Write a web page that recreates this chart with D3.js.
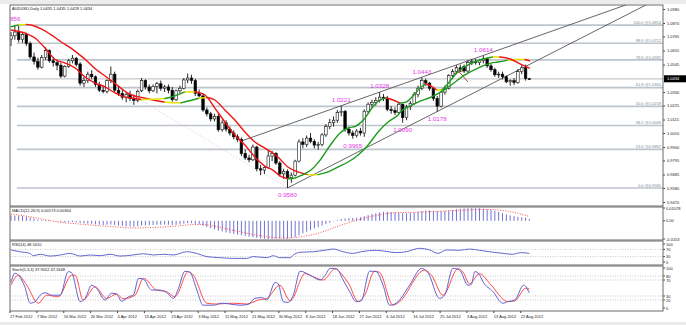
<!DOCTYPE html>
<html><head><meta charset="utf-8">
<script src="https://cdn.jsdelivr.net/npm/d3@7"></script>
<style>
html,body{margin:0;padding:0;background:#ececec;}
svg{display:block;font-family:"Liberation Sans",Arial,sans-serif;}
</style></head><body>
<svg id="chart" width="686" height="325"></svg>
<script>
// ---- AUDUSD daily bars, 27 Feb 2012 .. 24 Aug 2012 ----
const opens = [1.0745,1.0770,1.0800,1.0740,1.0780,1.0710,1.0605,1.0570,1.0525,1.0600,
1.0655,1.0575,1.0560,1.0540,1.0455,1.0530,1.0575,1.0595,1.0550,1.0400,
1.0420,1.0470,1.0450,1.0390,1.0345,1.0335,1.0420,1.0470,1.0345,1.0320,
1.0290,1.0310,1.0280,1.0265,1.0340,1.0420,1.0370,1.0340,1.0375,1.0395,
1.0360,1.0370,1.0345,1.0270,1.0340,1.0360,1.0425,1.0440,1.0420,1.0320,
1.0300,1.0190,1.0160,1.0120,1.0140,1.0035,1.0090,1.0040,1.0010,0.9980,
0.9960,0.9850,0.9815,0.9800,0.9900,0.9730,0.9720,0.9740,0.9830,0.9850,
0.9775,0.9690,0.9710,0.9660,0.9680,0.9790,0.9940,0.9920,0.9970,0.9945,
0.9915,0.9920,0.9995,1.0060,1.0090,1.0110,1.0170,1.0180,1.0040,1.0010,
0.9990,1.0025,1.0010,1.0180,1.0235,1.0250,1.0265,1.0290,1.0280,1.0195,
1.0185,1.0170,1.0235,1.0130,1.0215,1.0240,1.0310,1.0360,1.0420,1.0400,
1.0360,1.0280,1.0220,1.0330,1.0360,1.0460,1.0490,1.0520,1.0530,1.0495,
1.0560,1.0570,1.0560,1.0575,1.0590,1.0535,1.0505,1.0465,1.0470,1.0450,
1.0410,1.0420,1.0405,1.0490,1.0520,1.0435];
const highs = [1.0800,1.0856,1.0850,1.0800,1.0795,1.0725,1.0640,1.0600,1.0620,1.0680,
1.0665,1.0600,1.0585,1.0560,1.0540,1.0590,1.0620,1.0605,1.0565,1.0450,
1.0490,1.0500,1.0460,1.0410,1.0380,1.0430,1.0530,1.0490,1.0380,1.0350,
1.0330,1.0340,1.0310,1.0350,1.0440,1.0430,1.0390,1.0390,1.0410,1.0420,
1.0385,1.0390,1.0370,1.0350,1.0380,1.0440,1.0475,1.0465,1.0435,1.0350,
1.0310,1.0210,1.0175,1.0160,1.0160,1.0110,1.0110,1.0060,1.0030,1.0000,
0.9975,0.9880,0.9840,0.9920,0.9910,0.9760,0.9750,0.9880,0.9870,0.9860,
0.9790,0.9730,0.9725,0.9700,0.9800,0.9960,0.9970,0.9990,1.0010,0.9960,
0.9940,1.0010,1.0080,1.0120,1.0140,1.0190,1.0221,1.0190,1.0060,1.0030,
1.0040,1.0050,1.0195,1.0250,1.0270,1.0290,1.0328,1.0315,1.0300,1.0220,
1.0210,1.0250,1.0240,1.0230,1.0260,1.0330,1.0380,1.0443,1.0435,1.0410,
1.0370,1.0300,1.0340,1.0380,1.0470,1.0510,1.0540,1.0545,1.0545,1.0580,
1.0590,1.0590,1.0590,1.0614,1.0600,1.0550,1.0520,1.0490,1.0490,1.0460,
1.0430,1.0440,1.0510,1.0540,1.0545,1.0435];
const lows = [1.0690,1.0740,1.0720,1.0715,1.0690,1.0590,1.0545,1.0505,1.0515,1.0580,
1.0560,1.0530,1.0500,1.0440,1.0445,1.0520,1.0555,1.0530,1.0380,1.0370,
1.0400,1.0430,1.0370,1.0330,1.0320,1.0320,1.0400,1.0330,1.0300,1.0270,
1.0250,1.0260,1.0230,1.0250,1.0330,1.0350,1.0320,1.0330,1.0320,1.0340,
1.0330,1.0320,1.0255,1.0260,1.0320,1.0350,1.0400,1.0395,1.0300,1.0290,
1.0175,1.0140,1.0100,1.0100,1.0020,1.0020,1.0020,0.9990,0.9960,0.9940,
0.9830,0.9800,0.9780,0.9790,0.9710,0.9680,0.9690,0.9730,0.9790,0.9760,
0.9670,0.9650,0.9580,0.9620,0.9670,0.9780,0.9890,0.9900,0.9930,0.9890,
0.9880,0.9905,0.9980,1.0040,1.0060,1.0090,1.0140,1.0020,0.9990,0.9965,
0.9975,0.9990,0.9980,1.0160,1.0210,1.0225,1.0250,1.0260,1.0180,1.0160,
1.0150,1.0160,1.0090,1.0110,1.0190,1.0230,1.0290,1.0345,1.0380,1.0340,
1.0260,1.0178,1.0210,1.0310,1.0350,1.0440,1.0470,1.0490,1.0480,1.0480,
1.0540,1.0545,1.0540,1.0555,1.0520,1.0490,1.0450,1.0440,1.0430,1.0400,
1.0380,1.0385,1.0395,1.0470,1.0420,1.0428];
const closes = [1.0770,1.0800,1.0740,1.0780,1.0710,1.0605,1.0570,1.0525,1.0600,1.0655,
1.0575,1.0560,1.0540,1.0455,1.0530,1.0575,1.0595,1.0545,1.0400,1.0420,
1.0470,1.0450,1.0390,1.0345,1.0335,1.0420,1.0470,1.0345,1.0320,1.0290,
1.0310,1.0280,1.0265,1.0335,1.0420,1.0370,1.0340,1.0375,1.0395,1.0360,
1.0370,1.0345,1.0270,1.0340,1.0360,1.0425,1.0440,1.0420,1.0320,1.0300,
1.0190,1.0160,1.0120,1.0140,1.0035,1.0090,1.0040,1.0010,0.9980,0.9960,
0.9850,0.9815,0.9800,0.9900,0.9730,0.9720,0.9740,0.9830,0.9850,0.9775,
0.9690,0.9710,0.9660,0.9680,0.9790,0.9940,0.9920,0.9970,0.9945,0.9915,
0.9920,0.9995,1.0060,1.0090,1.0110,1.0170,1.0180,1.0040,1.0010,0.9990,
1.0025,1.0010,1.0180,1.0235,1.0250,1.0265,1.0290,1.0280,1.0195,1.0185,
1.0170,1.0235,1.0130,1.0215,1.0240,1.0310,1.0360,1.0420,1.0400,1.0360,
1.0280,1.0220,1.0330,1.0360,1.0460,1.0490,1.0520,1.0505,1.0495,1.0560,
1.0570,1.0560,1.0575,1.0590,1.0535,1.0505,1.0465,1.0470,1.0450,1.0410,
1.0420,1.0405,1.0490,1.0520,1.0435,1.0434];

// date labels, one every 7 bars
const dateLabels = ["27 Feb 2012","7 Mar 2012","16 Mar 2012","26 Mar 2012","4 Apr 2012","13 Apr 2012",
"23 Apr 2012","3 May 2012","11 May 2012","21 May 2012","30 May 2012","8 Jun 2012","18 Jun 2012",
"27 Jun 2012","6 Jul 2012","16 Jul 2012","25 Jul 2012","3 Aug 2012","13 Aug 2012","22 Aug 2012"];
const dateLabelStep = 7;

const priceTicks = [1.0980,1.0870,1.0765,1.0655,1.0545,1.0330,1.0225,1.0115,1.0010,0.9900,0.9795,0.9685,0.9580,0.9470];
const lastPrice = 1.0434;

// moving-average pair, as [bar, price] readings
const maSlow = [[0,1.0841],[2,1.0856],[4,1.0860],[5.5,1.0853],[8,1.0823],[10.5,1.0777],[13,1.0724],[15.7,1.0672],
[17.4,1.0633],[20,1.0568],[21.8,1.0516],[23.5,1.0477],[25.3,1.0438],[27,1.0399],[28.7,1.0359],[30.5,1.0320],
[32.2,1.0299],[34.4,1.0286],[37,1.0268],[40,1.0252],[42,1.0246],[44.3,1.0246],[46.5,1.0262],[49,1.0282],
[51,1.0288],[53,1.0270],[55.7,1.0190],[58.3,1.0111],[60.9,1.0018],[63.5,0.9939],[66.1,0.9892],[68.2,0.9853],
[69.5,0.9822],[72.1,0.9744],[74.7,0.9705],[77.3,0.9684],[78.6,0.9681],[80,0.9684],[82.6,0.9705],[85.2,0.9744],
[87.8,0.9783],[90.4,0.9838],[93,0.9916],[95.6,1.0018],[98.2,1.0096],[100.8,1.0151],[102,1.0190],[103.9,1.0221],
[106,1.0252],[109.4,1.0291],[112,1.0331],[114.6,1.0385],[118.2,1.0464],[121.6,1.0518],[125,1.0557],
[126.8,1.0565],[129.4,1.0580],[131.3,1.0585],[133.9,1.0585],[135,1.0575]];
const maFast = [[0,1.0816],[3.6,1.0792],[6.25,1.0753],[8.85,1.0675],[11.5,1.0585],[14.1,1.0557],[16.7,1.0518],
[19.3,1.0448],[21.9,1.0401],[24.5,1.0370],[27.1,1.0323],[29.7,1.0291],[32.3,1.0280],[34,1.0272],[36.5,1.0274],
[40.1,1.0280],[41.7,1.0291],[45.3,1.0331],[47.9,1.0333],[50.5,1.0307],[53.1,1.0205],[55.7,1.0096],[58.3,0.9994],
[60.9,0.9916],[63.5,0.9822],[66.1,0.9751],[68.2,0.9720],[70,0.9675],[72.1,0.9652],[74,0.9658],[75.8,0.9681],
[78.1,0.9720],[80.5,0.9798],[83,0.9908],[85.7,1.0010],[87.8,1.0049],[89.8,1.0064],[92.2,1.0127],[94,1.0205],
[96.1,1.0268],[97.7,1.0284],[99.5,1.0268],[101.3,1.0244],[102.9,1.0252],[104.7,1.0299],[106.5,1.0362],
[108,1.0393],[109.4,1.0377],[110.9,1.0346],[112.2,1.0346],[113.5,1.0385],[115.6,1.0464],[116.9,1.0503],
[119.5,1.0550],[122.1,1.0581],[125.5,1.0604],[127.3,1.0604],[130,1.0589],[133.1,1.0542],[135,1.0518]];

// Fibonacci retracement 1.0856 -> 0.9580
const fibLevels = [0, 23.6, 38.2, 50.0, 61.8, 78.6, 88.6, 100.0];
const fibPrices = [0.9580, 0.9882, 1.0068, 1.0218, 1.0365, 1.0582, 1.0712, 1.0854];
const fibAnchorBars = [1, 72];
const fibAnchorPrices = [1.0856, 0.9580];

// swing labels: bar index, price, placed above (1) or below (-1)
const swingBars   = [0, 72, 86, 89, 96, 102, 107, 111, 123];
const swingPrices = [1.0856, 0.9580, 1.0221, 0.9965, 1.0328, 1.0090, 1.0443, 1.0178, 1.0614];
const swingSide   = [1, -1, 1, -1, 1, -1, 1, -1, 1];

// trendlines as [bar, price] pairs
const upperChannel = [[60, 0.9947], [123, 1.0617]];
const lowerChannel = [[72, 0.9580], [111, 1.0178]];
const smallLines = [[[115.6, 1.0527], [119, 1.0409]], [[115.1, 1.0472], [118.5, 1.0505]]];

// MACD(12,26,9): main histogram per bar, signal readings [bar, value]
const macdHist = [45,44,42,40,35,28,20,12,8,6,4,0,-5,-10,-12,-10,-10,-12,-18,-22,
-24,-25,-28,-32,-35,-34,-32,-36,-40,-44,-46,-48,-50,-46,-40,-38,-37,-35,-33,-33,
-32,-33,-36,-34,-30,-24,-20,-20,-26,-32,-42,-52,-62,-72,-82,-90,-98,-104,-110,-116,
-122,-128,-134,-138,-144,-148,-151,-153,-152,-150,-149,-150,-150,-146,-136,-122,-106,-92,-78,-64,
-52,-40,-28,-16,-4,6,16,20,22,24,26,30,38,48,58,64,72,76,76,74,
70,68,64,64,66,70,76,82,86,86,84,80,80,82,86,90,98,102,104,106,
107.8,107,105,102,98,92,84,74,64,54,46,40,34,30,26,17.3].map(v => v / 10000);
const macdSignal = [[0,58],[5.7,30],[11.9,-8],[18.8,-30],[25.8,-48],[31.8,-60],[40.5,-50],[49.2,-30],
[57.9,-80],[64.8,-125],[70.9,-145],[79.6,-108],[86.5,-30],[90,5],[95,45],[100,68],[105,72],[112.5,82],
[118,90],[123.7,96],[127,90],[131,70],[135,36.4]].map(([b, v]) => [b, v / 10000]);

// RSI(14) readings [bar, value]
const rsiLine = [[0,67],[2.3,57],[4.9,48],[5.8,35],[7.6,43],[10.2,33],[12.8,39],[15.4,48],[18,33],[20.6,39],
[23.2,35],[25.8,43],[28.4,33],[31.8,39],[34.5,46],[37.1,39],[39.7,43],[42.3,39],[45.7,57],[48.3,48],[51,30],
[54.4,24],[57.9,20],[61.4,20],[63.1,30],[66.6,24],[68.3,35],[70,24],[72.7,24],[73.5,39],[75.3,54],[78.7,57],
[82.2,67],[83.9,72],[86.5,57],[89,48],[91.7,59],[95.1,65],[97.7,59],[100.3,52],[102.9,57],[106.4,76],[109,67],
[111.2,48],[113.4,67],[116.8,65],[119.4,72],[122,65],[124.6,57],[128.1,48],[130.6,43],[132.8,52],[135,48.161]];

// Stochastic(5,3,3) readings [bar, value]
const stochMain = [[0,64],[1,87],[3.6,53],[5,12],[6.3,16],[7.6,32],[8.9,38],[10.6,32],[12.8,32],[14.9,91],
[15.8,88],[18,16],[19.3,24],[21,57],[22.3,49],[24.5,20],[26.2,37],[27.5,35],[28.8,17],[30.6,28],[31.9,33],
[33.2,74],[34.5,72],[36.6,45],[38.4,45],[40.5,39],[42.3,24],[43.6,49],[45.3,92],[46.6,89],[48.4,45],[50,7],
[52.7,7],[54.9,12],[57,10],[59.6,7],[61.8,9],[63.5,24],[65.3,26],[66.6,20],[68.8,64],[69.6,60],[70.9,16],
[72.2,14],[73.5,32],[75.3,92],[77.9,82],[80.5,70],[81.8,82],[83.1,99],[84.8,98],[86.5,70],[88.2,41],[89.9,16],
[91.2,18],[93.4,92],[95.1,91],[96.9,57],[98.6,7],[100.3,12],[103.8,57],[106.9,99],[108.6,88],[111.6,24],
[112.9,32],[115.1,99],[116.8,95],[119,57],[119.9,59],[120.8,91],[122,83],[122.9,66],[125.5,41],[128.1,12],
[129.4,16],[131.2,20],[133.5,57],[135,37.9052]];
const stochSignal = [[0,57],[1.9,82],[4.1,57],[7.1,12],[9.3,32],[12.3,28],[15.8,82],[16.7,82],[18.8,20],
[21.9,53],[24.9,24],[27.5,35],[29.2,23],[32.3,32],[34.5,74],[37.9,45],[40.5,41],[42.7,28],[46.2,91],[47.5,82],
[51,12],[53.5,10],[57.9,12],[61.4,10],[64.4,20],[66.6,24],[70,57],[72.7,18],[76.6,86],[78.7,78],[81.3,70],
[84.4,98],[86.5,80],[88,60],[90.4,16],[92.1,32],[94.7,92],[96,89],[99.5,7],[101.2,16],[107.7,95],[109.5,82],
[112.5,32],[116.4,98],[117.7,90],[119.4,61],[122,86],[124.7,61],[129.4,16],[131.2,18],[134.1,50],[135,47.1648]];

const headerText = "AUDUSD,Daily  1.0435 1.0435 1.0428 1.0434";
const macdTitle = "MACD(12,26,9) 0.00173 0.00364";
const rsiTitle = "RSI(14) 48.1610";
const stochTitle = "Stoch(5,3,3) 37.9052 47.1648";
const macdTicks = [0.01078, 0.00, -0.0153];
const macdTickText = ["0.01078", "0.00", "-0.0153"];
const rsiTicks = [100, 70, 30, 0];
const stochTicks = [100, 80, 70, 30, 20, 0];

// ---- layout ----
const svg = d3.select("#chart");
const L = 10, R = 663;
const P = { main: [5, 206], macd: [207, 240], rsi: [241, 265], stoch: [266, 311] };
const nBars = closes.length;
const x = d3.scaleLinear().domain([0, nBars - 1]).range([11, 11 + 3.84 * (nBars - 1)]);
const y = d3.scaleLinear().domain([0.9470, 1.0980]).range([202, 9]);
const yM = d3.scaleLinear().domain([-0.0153, 0.01078]).range([239, 208]);
const yR = d3.scaleLinear().domain([0, 100]).range([262, 244]);
const yS = d3.scaleLinear().domain([0, 100]).range([308, 268]);

svg.append("rect").attr("x", 0).attr("y", 4).attr("width", 686).attr("height", 318).attr("fill", "#fff");

const defs = svg.append("defs");
Object.entries(P).forEach(([k, [t, b]]) => {
  defs.append("clipPath").attr("id", "clip-" + k).append("rect")
    .attr("x", L).attr("y", t).attr("width", R - L).attr("height", b - t);
});

const main = svg.append("g").attr("clip-path", "url(#clip-main)");

// fib levels
fibLevels.forEach((lv, i) => {
  const yy = y(fibPrices[i]);
  main.append("line").attr("x1", x(fibAnchorBars[0]) + 2).attr("x2", R).attr("y1", yy).attr("y2", yy)
    .attr("stroke", "#bcc4cc").attr("stroke-width", 1.6);
  svg.append("text").attr("x", R - 2).attr("y", yy - 1.2).attr("text-anchor", "end")
    .attr("font-size", 4).attr("fill", "#7d8a98").text(lv.toFixed(1) + " @" + fibPrices[i].toFixed(4));
});
// last price line
main.append("line").attr("x1", x(1.5)).attr("x2", R).attr("y1", y(lastPrice)).attr("y2", y(lastPrice))
  .attr("stroke", "#c4c8cc").attr("stroke-width", 1.2);
// fib trend (dotted)
main.append("line")
  .attr("x1", x(fibAnchorBars[0])).attr("y1", y(fibAnchorPrices[0]))
  .attr("x2", x(fibAnchorBars[1])).attr("y2", y(fibAnchorPrices[1]))
  .attr("stroke", "#d8b8c4").attr("stroke-width", 0.8).attr("stroke-dasharray", "1,2");

// trendline rays
function ray(pts, color, w) {
  const [[b0, p0], [b1, p1]] = pts;
  const slope = (p1 - p0) / (b1 - b0);
  main.append("line").attr("x1", x(b0)).attr("y1", y(p0)).attr("x2", x(b0 + 200)).attr("y2", y(p0 + slope * 200))
    .attr("stroke", color).attr("stroke-width", w);
}
ray(upperChannel, "#555", 0.9);
ray(lowerChannel, "#555", 0.9);
smallLines.forEach(([[b0, p0], [b1, p1]]) => {
  main.append("line").attr("x1", x(b0)).attr("y1", y(p0)).attr("x2", x(b1)).attr("y2", y(p1))
    .attr("stroke", "#a0522d").attr("stroke-width", 1);
});

// candles
const cw = 2.6;
const cg = main.append("g");
closes.forEach((c, i) => {
  const o = opens[i], up = c >= o;
  cg.append("line").attr("x1", x(i)).attr("x2", x(i)).attr("y1", y(highs[i])).attr("y2", y(lows[i]))
    .attr("stroke", "#111").attr("stroke-width", 0.9);
  const top = y(Math.max(o, c)), bot = y(Math.min(o, c));
  cg.append("rect").attr("x", x(i) - cw / 2).attr("y", top).attr("width", cw).attr("height", Math.max(0.8, bot - top))
    .attr("fill", up ? "#fff" : "#000").attr("stroke", "#111").attr("stroke-width", 0.6);
});

// moving averages coloured by direction (green up, red down, yellow flat)
function colouredMA(pts) {
  const cols = [];
  for (let i = 1; i < pts.length; i++) {
    const s = (pts[i][1] - pts[i - 1][1]) / (pts[i][0] - pts[i - 1][0]);
    cols.push(Math.abs(s) < 0.0003 ? "#e6e000" : (s > 0 ? "#1d9b1d" : "#f01414"));
  }
  let start = 0;
  for (let i = 1; i <= cols.length; i++) {
    if (i === cols.length || cols[i] !== cols[start]) {
      const seg = d3.range(start, i + 1).map(k => [x(pts[k][0]), y(pts[k][1])]);
      main.append("path").attr("d", d3.line().curve(d3.curveMonotoneX)(seg))
        .attr("fill", "none").attr("stroke", cols[start]).attr("stroke-width", 1.4).attr("stroke-linecap", "round");
      start = i;
    }
  }
}
colouredMA(maSlow);
colouredMA(maFast);

// swing labels
swingBars.forEach((b, i) => {
  const side = swingSide[i];
  main.append("text").attr("x", x(b)).attr("y", side > 0 ? y(swingPrices[i]) - 4 : y(swingPrices[i]) + 9)
    .attr("text-anchor", "middle").attr("font-size", 6.2).attr("fill", "#e838e8").text(swingPrices[i].toFixed(4));
});

svg.append("text").attr("x", 12).attr("y", 10).attr("font-size", 4).attr("fill", "#111").text(headerText);

// price axis
const ax = svg.append("g").attr("transform", `translate(${R},0)`)
  .call(d3.axisRight(y).tickValues(priceTicks).tickFormat(d3.format(".4f")).tickSize(2).tickPadding(2));
ax.select(".domain").remove();
ax.selectAll("text").attr("font-size", 4).attr("fill", "#222").attr("font-family", "Liberation Sans,Arial");
ax.selectAll("line").attr("stroke", "#444");
svg.append("rect").attr("x", R + 1).attr("y", y(lastPrice) - 3.5).attr("width", 22).attr("height", 7).attr("fill", "#000");
svg.append("text").attr("x", R + 4).attr("y", y(lastPrice) + 1.5).attr("font-size", 4).attr("fill", "#fff").text(lastPrice.toFixed(4));

const lineOf = (sx, sy) => d3.line().curve(d3.curveMonotoneX).x(d => sx(d[0])).y(d => sy(d[1]));

// ---- MACD ----
const mg = svg.append("g").attr("clip-path", "url(#clip-macd)");
macdHist.forEach((v, i) => {
  mg.append("line").attr("x1", x(i)).attr("x2", x(i)).attr("y1", yM(0)).attr("y2", yM(v))
    .attr("stroke", "#7272d2").attr("stroke-width", 1);
});
mg.append("path").datum(macdSignal).attr("fill", "none").attr("stroke", "#ff3c3c").attr("stroke-width", 0.9)
  .attr("stroke-dasharray", "1,1.5").attr("d", lineOf(x, yM));
svg.append("text").attr("x", 12).attr("y", 212).attr("font-size", 4).attr("fill", "#111").text(macdTitle);
macdTicks.forEach((t, i) => {
  svg.append("text").attr("x", R + 3).attr("y", yM(t) + 1.5).attr("font-size", 4).attr("fill", "#222").text(macdTickText[i]);
  svg.append("line").attr("x1", R).attr("x2", R + 2).attr("y1", yM(t)).attr("y2", yM(t)).attr("stroke", "#444");
});

// ---- RSI ----
const rg = svg.append("g").attr("clip-path", "url(#clip-rsi)");
[70, 30].forEach(l => rg.append("line").attr("x1", L).attr("x2", R).attr("y1", yR(l)).attr("y2", yR(l))
  .attr("stroke", "#b0b0b0").attr("stroke-width", 0.7).attr("stroke-dasharray", "1,1.5"));
rg.append("path").datum(rsiLine).attr("fill", "none").attr("stroke", "#5656c8").attr("stroke-width", 0.9)
  .attr("d", lineOf(x, yR));
svg.append("text").attr("x", 12).attr("y", 246).attr("font-size", 4).attr("fill", "#111").text(rsiTitle);
rsiTicks.forEach(t => {
  svg.append("text").attr("x", R + 3).attr("y", yR(t) + 1.5).attr("font-size", 4).attr("fill", "#222").text(t);
  svg.append("line").attr("x1", R).attr("x2", R + 2).attr("y1", yR(t)).attr("y2", yR(t)).attr("stroke", "#444");
});

// ---- Stochastic ----
const sg = svg.append("g").attr("clip-path", "url(#clip-stoch)");
[80, 70, 30, 20].forEach(l => sg.append("line").attr("x1", L).attr("x2", R).attr("y1", yS(l)).attr("y2", yS(l))
  .attr("stroke", "#b0b0b0").attr("stroke-width", 0.7).attr("stroke-dasharray", "1,1.5"));
sg.append("path").datum(stochSignal).attr("fill", "none").attr("stroke", "#ff4a4a").attr("stroke-width", 1)
  .attr("d", lineOf(x, yS));
sg.append("path").datum(stochMain).attr("fill", "none").attr("stroke", "#6060d0").attr("stroke-width", 1)
  .attr("d", lineOf(x, yS));
svg.append("text").attr("x", 12).attr("y", 271).attr("font-size", 4).attr("fill", "#111").text(stochTitle);
stochTicks.forEach(t => {
  svg.append("text").attr("x", R + 3).attr("y", yS(t) + 1.5).attr("font-size", 4).attr("fill", "#222").text(t);
  svg.append("line").attr("x1", R).attr("x2", R + 2).attr("y1", yS(t)).attr("y2", yS(t)).attr("stroke", "#444");
});

// panel frames
Object.values(P).forEach(([t, b]) => {
  svg.append("rect").attr("x", L).attr("y", t).attr("width", R - L).attr("height", b - t)
    .attr("fill", "none").attr("stroke", "#6a6a6a").attr("stroke-width", 1);
});

// time axis
dateLabels.forEach((lab, k) => {
  const b = k * dateLabelStep;
  svg.append("line").attr("x1", x(b) - 1).attr("x2", x(b) - 1).attr("y1", P.stoch[1]).attr("y2", P.stoch[1] + 2).attr("stroke", "#444");
  svg.append("text").attr("x", x(b) - 1).attr("y", 318).attr("font-size", 4).attr("fill", "#222").text(lab);
});
</script>
</body></html>
